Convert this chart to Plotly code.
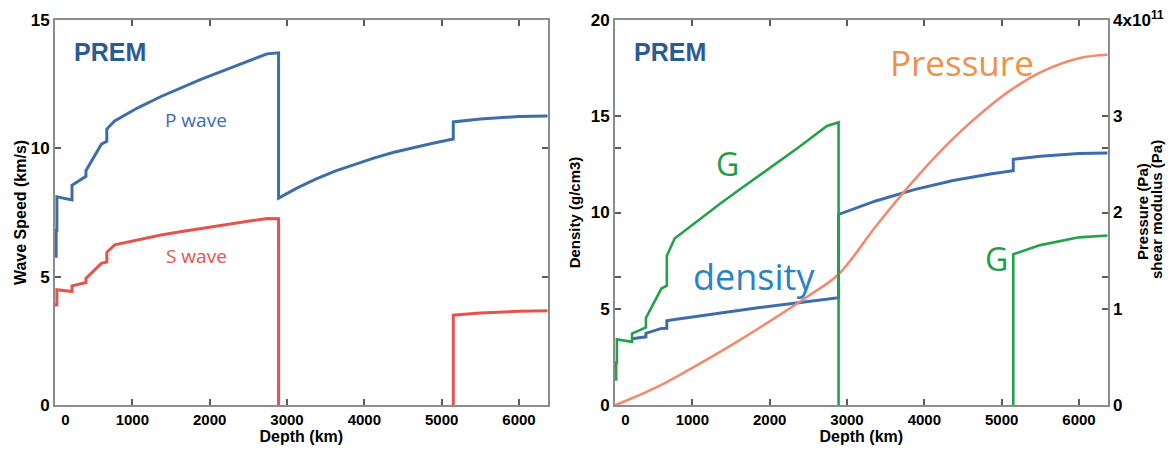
import plotly.graph_objects as go

W, H = 1171, 450

# ---------------- data (PREM) ----------------
depth_ticks = [0, 1000, 2000, 3000, 4000, 5000, 6000]
depth_tick_text = ["\u00a0" * 5 + "0", "1000", "2000", "3000", "4000", "5000", "6000"]

# P-wave speed (km/s)
depth_vp = [0, 15, 15, 24.4, 24.4, 80, 220, 220, 400, 400, 600, 670, 670, 771,
            1071, 1371, 1621, 1871, 2121, 2371, 2741, 2891, 2891,
            3121, 3371, 3621, 3871, 4121, 4371, 4621, 4871, 5150, 5150,
            5500, 6000, 6371]
vp = [5.8, 5.8, 6.8, 6.8, 8.11, 8.08, 7.99, 8.56, 8.91, 9.13, 10.16, 10.27, 10.75, 11.07,
      11.58, 12.02, 12.36, 12.67, 12.96, 13.25, 13.68, 13.72, 8.06,
      8.44, 8.80, 9.11, 9.38, 9.62, 9.84, 10.02, 10.19, 10.36, 11.03,
      11.14, 11.24, 11.26]

# S-wave speed (km/s); zero in the liquid outer core
depth_vs = [0, 24.4, 24.4, 80, 220, 220, 400, 400, 600, 670, 670, 771,
            1071, 1371, 1621, 1871, 2121, 2371, 2741, 2891, 2891, None,
            5150, 5150, 5500, 6000, 6371]
vs = [3.9, 3.9, 4.49, 4.47, 4.42, 4.64, 4.77, 4.93, 5.52, 5.57, 5.95, 6.24,
      6.44, 6.62, 6.75, 6.87, 6.99, 7.10, 7.27, 7.26, 0, None,
      0, 3.50, 3.58, 3.65, 3.67]

# Density (g/cm3)
depth_rho = [220, 400, 400, 600, 670, 670, 771, 1071, 1371, 1871, 2371, 2741, 2891, 2891,
             3371, 3871, 4371, 4871, 5150, 5150, 5500, 6000, 6371]
rho = [3.44, 3.54, 3.72, 3.98, 3.99, 4.38, 4.44, 4.62, 4.79, 5.06, 5.31, 5.49, 5.57, 9.90,
       10.60, 11.19, 11.66, 12.01, 12.17, 12.76, 12.92, 13.06, 13.09]

# Shear modulus G (GPa)
depth_g = [0, 15, 15, 24.4, 24.4, 220, 220, 400, 400, 600, 670, 670, 771,
           1071, 1371, 1621, 1871, 2121, 2371, 2741, 2891, 2891, None,
           5150, 5150, 5500, 6000, 6371]
shear_gpa = [26.6, 26.6, 44.1, 44.1, 68.2, 65.6, 74.1, 80.6, 90.6, 121.0, 123.9, 154.9, 173.0,
             191.8, 209.8, 224.4, 238.8, 253.0, 267.5, 289.9, 293.8, 0, None,
             0, 156.7, 166.1, 174.2, 176.1]

# Pressure (GPa)
depth_p = [0, 24.4, 220, 400, 670, 1000, 1500, 2000, 2500, 2891,
           3371, 3871, 4371, 4871, 5150, 5500, 6000, 6371]
pressure_gpa = [0, 0.6, 7.1, 13.4, 23.8, 38.5, 62.0, 86.9, 113.2, 135.8,
                185.5, 233.9, 276.7, 312.2, 328.9, 345.6, 360.3, 363.9]

speed_ticks = [0, 5, 10, 15]
rho_ticks = [0, 5, 20 / 3, 10, 40 / 3, 15, 20]
rho_tick_text = ["0", "5", " ", "10", " ", "15", "20"]
pa_ticks = [0, 1e11, 4e11 / 3, 2e11, 8e11 / 3, 3e11, 4e11]
pa_tick_text = ["0", "1", " ", "2", " ", "3", "4x10<sup>11</sup>"]


def to_pa(values):
    return [None if v is None else v * 1e9 for v in values]


# ---------------- styling ----------------
BLUE = "#3d6ea9"
RED = "#e5534b"
GREEN = "#24a24a"
ORANGE = "#f38a70"
AXC = "#8c8c8c"
TICKC = "#5a5a5a"
BOLD = "Liberation Sans, Arial, sans-serif"
SOFT = "Open Sans, Noto Sans, sans-serif"

fig = go.Figure()

fig.add_trace(go.Scatter(x=depth_vp, y=vp, xaxis="x", yaxis="y", mode="lines",
                         line=dict(color=BLUE, width=3), name="P wave"))
fig.add_trace(go.Scatter(x=depth_vs, y=vs, xaxis="x", yaxis="y", mode="lines",
                         line=dict(color=RED, width=3), name="S wave"))

fig.add_trace(go.Scatter(x=depth_p, y=to_pa(pressure_gpa), xaxis="x2", yaxis="y3",
                         mode="lines", line=dict(color=ORANGE, width=2.6, shape="spline"),
                         name="Pressure"))
fig.add_trace(go.Scatter(x=depth_rho, y=rho, xaxis="x2", yaxis="y2", mode="lines",
                         line=dict(color=BLUE, width=3), name="density"))
fig.add_trace(go.Scatter(x=depth_g, y=to_pa(shear_gpa), xaxis="x2", yaxis="y3",
                         mode="lines", line=dict(color=GREEN, width=2.6), name="G"))

common_x = dict(range=[0, 6371], tickvals=depth_ticks, ticktext=depth_tick_text,
                ticks="inside", ticklen=6, tickwidth=1.5, tickcolor=TICKC,
                showline=True, linecolor=AXC, linewidth=2, mirror="ticks",
                showgrid=False, zeroline=False, automargin=False,
                tickfont=dict(family=BOLD, size=15, color="black", weight="bold"),
                title=dict(text="Depth (km)", standoff=4,
                           font=dict(family=BOLD, size=16, color="black", weight="bold")))
common_y = dict(ticks="inside", ticklen=6, tickwidth=1.5, tickcolor=TICKC,
                showline=True, linecolor=AXC, linewidth=2, automargin=False,
                showgrid=False, zeroline=False,
                tickfont=dict(family=BOLD, size=17, color="black", weight="bold"))

ydom = [45 / H, 430 / H]
fig.update_layout(
    width=W, height=H,
    margin=dict(l=0, r=0, t=0, b=0, autoexpand=False),
    paper_bgcolor="white", plot_bgcolor="white",
    showlegend=False,
    xaxis=dict(domain=[55 / W, 547.7 / W], anchor="y", **common_x),
    xaxis2=dict(domain=[615 / W, 1107.7 / W], anchor="y2", **common_x),
    yaxis=dict(domain=ydom, anchor="x", range=[0, 15], tickvals=speed_ticks, mirror="ticks",
               title=dict(text="Wave Speed (km/s)", standoff=0,
                          font=dict(family=BOLD, size=16, color="black", weight="bold")),
               **common_y),
    yaxis2=dict(domain=ydom, anchor="x2", range=[0, 20], tickvals=rho_ticks,
                ticktext=rho_tick_text,
                title=dict(text="Density (g/cm3)", standoff=6,
                           font=dict(family=BOLD, size=15, color="black", weight="bold")),
                **common_y),
    yaxis3=dict(overlaying="y2", anchor="x2", side="right", range=[0, 4e11],
                tickvals=pa_ticks, ticktext=pa_tick_text,
                **common_y),
)


def label(text, px, py, color, size, family=SOFT, bold=False, angle=0):
    fig.add_annotation(text=text, x=px / W, y=1 - py / H, xref="paper", yref="paper",
                       showarrow=False, xanchor="center", yanchor="middle", textangle=angle,
                       font=dict(family=family, size=size, color=color,
                                 weight="bold" if bold else "normal"))


label("PREM", 110, 52, "#2c5b93", 25, family=BOLD, bold=True)
label("PREM", 670, 52, "#2c5b93", 25, family=BOLD, bold=True)
label("P wave", 196, 120, "#3a6db0", 19)
label("S wave", 196, 256, "#e8534d", 19)
label("G", 727, 163, "#1a9e48", 32)
label("density", 754, 276, "#2a82c4", 36)
label("Pressure", 962, 62, "#f0914a", 35)
label("G", 996, 258, "#1a9e48", 32)
# right-hand axis title (two lines, set tightly as in the reference)
label("Pressure (Pa)", 1143, 212, "black", 15, family=BOLD, bold=True, angle=-90)
label("shear modulus (Pa)", 1156, 210, "black", 15, family=BOLD, bold=True, angle=-90)

fig.write_html("out.html", config={"displayModeBar": False},
               post_script="document.body.style.margin='0px';")
